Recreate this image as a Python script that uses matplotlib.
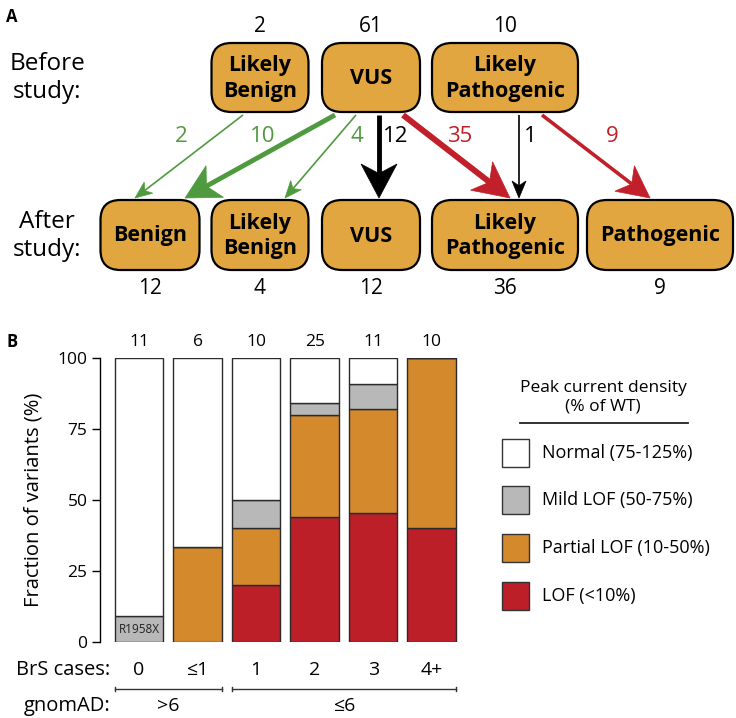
import numpy as np
import matplotlib
matplotlib.use("Agg")
import matplotlib.pyplot as plt
import matplotlib.patches as patches
from matplotlib.transforms import blended_transform_factory

plt.rcParams['font.family'] = ['Open Sans', 'DejaVu Sans']

# --- Panel A data ---
before_labels = ["Likely\nBenign", "VUS", "Likely\nPathogenic"]
before_counts = [2, 61, 10]
before_rank = [1, 2, 3]
after_labels = ["Benign", "Likely\nBenign", "VUS", "Likely\nPathogenic", "Pathogenic"]
after_counts = [12, 4, 12, 36, 9]
after_rank = [0, 1, 2, 3, 4]
# (from before index, to after index, number of variants)
trans_from = [0, 1, 1, 1, 1, 2, 2]
trans_to = [0, 0, 1, 2, 3, 3, 4]
trans_n = [2, 10, 4, 12, 35, 1, 9]

# --- Panel B data ---
bar_counts = [11, 6, 10, 25, 11, 10]
brs_labels = ["0", "\u22641", "1", "2", "3", "4+"]
lof = [0, 0, 20, 44, 45.5, 40]
partial = [0, 33.3, 20, 36, 36.4, 60]
mild = [9.1, 0, 10, 4, 9.1, 0]
normal = [90.9, 66.7, 50, 16, 9.1, 0]
class_names = ["Normal (75-125%)", "Mild LOF (50-75%)", "Partial LOF (10-50%)", "LOF (<10%)"]
class_colors = ["#ffffff", "#b8b8b8", "#d4892c", "#bc1f28"]

GREEN = "#4f9a3f"
RED = "#c1202a"
BOX = "#e1a63f"

fig = plt.figure(figsize=(7.36, 7.18), dpi=100)

# overlay in pixel coordinates for the diagram and annotations
axa = fig.add_axes([0, 0, 1, 1])
axa.set_xlim(0, 736)
axa.set_ylim(718, 0)
axa.axis('off')

# --- layout of panel A (pixels) ---
before_x = [260, 371, 505]
before_w = [97, 98, 146]
after_x = [150, 260, 371, 505, 660]
after_w = [99, 97, 98, 146, 146]
top_y, top_h = 77.5, 69
bot_y, bot_h = 235, 70


def draw_box(x, y, w, h, label):
    box = patches.FancyBboxPatch((x - w / 2, y - h / 2), w, h,
                                 boxstyle="round,pad=0,rounding_size=20",
                                 facecolor=BOX, edgecolor='black', linewidth=1.6)
    axa.add_patch(box)
    axa.text(x, y + 1, label, ha='center', va='center', fontsize=15.5,
             fontweight='bold', linespacing=1.3)


for x, w, lab, n in zip(before_x, before_w, before_labels, before_counts):
    draw_box(x, top_y, w, top_h, lab)
    axa.text(x, 26, str(n), ha='center', va='center', fontsize=15)
for x, w, lab, n in zip(after_x, after_w, after_labels, after_counts):
    draw_box(x, bot_y, w, bot_h, lab)
    axa.text(x, 288, str(n), ha='center', va='center', fontsize=15)

axa.text(47, 78, "Before\nstudy:", ha='center', va='center', fontsize=17.5, linespacing=1.2)
axa.text(47, 236, "After\nstudy:", ha='center', va='center', fontsize=17.5, linespacing=1.2)
axa.text(12, 17, "A", ha='center', va='center', fontsize=12, fontweight='bold')
axa.text(12, 342, "B", ha='center', va='center', fontsize=12, fontweight='bold')


def draw_arrow(x0, y0, x1, y1, lw, hl, hw, color):
    d = np.array([x1 - x0, y1 - y0], dtype=float)
    u = d / np.hypot(*d)
    nrm = np.array([-u[1], u[0]])
    tip = np.array([x1, y1])
    base = tip - u * hl
    notch = tip - u * hl * 0.72
    axa.plot([x0, notch[0]], [y0, notch[1]], color=color, linewidth=lw,
             solid_capstyle='butt')
    head = patches.Polygon([tip, base + nrm * hw / 2, notch, base - nrm * hw / 2],
                           closed=True, facecolor=color, edgecolor=color, linewidth=0.5)
    axa.add_patch(head)


# start / end offsets from box centres and label positions
start_dx = [-17, -36, -15, 8, 32, 14, 37]
end_dx = [-15, 35, 25, 8, 5, 14, -10]
label_x = [181, 263, 357, 396, 460, 530, 612]
for i in range(len(trans_n)):
    f, t, n = trans_from[i], trans_to[i], trans_n[i]
    if after_rank[t] < before_rank[f]:
        col = GREEN
    elif after_rank[t] > before_rank[f]:
        col = RED
    else:
        col = 'black'
    if n < 5:
        lw, hl, hw = 1.2, 17, 14
    elif n < 10:
        lw, hl, hw = 2.6, 32, 32
    elif n < 20:
        lw, hl, hw = 3.5, 34, 36
    else:
        lw, hl, hw = 4.3, 36, 36
    draw_arrow(before_x[f] + start_dx[i], top_y + top_h / 2 + 3,
               after_x[t] + end_dx[i], bot_y - bot_h / 2 - 2, lw, hl, hw, col)
    axa.text(label_x[i], 136, str(n), ha='center', va='center', fontsize=16, color=col)

# --- Panel B ---
axb = fig.add_axes([100 / 736, (718 - 642) / 718, 361 / 736, 284 / 718])
axb.patch.set_alpha(0)
x = np.arange(len(bar_counts))
bottom = np.zeros(len(x))
for vals, col in zip([lof, partial, mild, normal], class_colors[::-1]):
    axb.bar(x, vals, bottom=bottom, width=0.83, color=col, edgecolor='#2a2a2a', linewidth=1.0)
    bottom += np.array(vals)
axb.set_xlim(-0.667, 5.5)
axb.set_ylim(0, 100)
axb.set_yticks([0, 25, 50, 75, 100])
axb.tick_params(axis='y', labelsize=12.5, length=6, width=1, direction='out', pad=3)
axb.tick_params(axis='x', length=0, labelbottom=False)
for s in ['top', 'right', 'bottom']:
    axb.spines[s].set_visible(False)
axb.spines['left'].set_linewidth(1)
axb.set_ylabel("Fraction of variants (%)", fontsize=14.5, labelpad=10)

trans = blended_transform_factory(axb.transData, axb.transAxes)
for xi, n, lab in zip(x, bar_counts, brs_labels):
    axb.text(xi, 1.055, str(n), transform=trans, ha='center', va='center', fontsize=12.5, clip_on=False)
    axb.text(xi, -0.1, lab, transform=trans, ha='center', va='center', fontsize=14, clip_on=False)
axb.text(0, mild[0] / 2, "R1958X", ha='center', va='center', fontsize=8.5, color='#222222')

# gnomAD brackets
for a, b, lab in [(0, 1, ">6"), (2, 5, "\u22646")]:
    x0, x1 = a - 0.415, b + 0.415
    axb.plot([x0, x1], [-0.165, -0.165], transform=trans, color='#333333', lw=1, clip_on=False)
    for xe in (x0, x1):
        axb.plot([xe, xe], [-0.157, -0.173], transform=trans, color='#333333', lw=1, clip_on=False)
    axb.text((a + b) / 2, -0.225, lab, transform=trans, ha='center', va='center', fontsize=14, clip_on=False)

axa.text(110, 670, "BrS cases:", ha='right', va='center', fontsize=14.5)
axa.text(110, 706, "gnomAD:", ha='right', va='center', fontsize=14.5)

# legend
axa.text(603, 397, "Peak current density\n(% of WT)", ha='center', va='center', fontsize=12.5, linespacing=1.2)
axa.plot([520, 688], [423, 423], color='#222222', lw=1.3)
leg_y = [453, 500, 548, 596]
for yy, name, col in zip(leg_y, class_names, class_colors):
    axa.add_patch(patches.Rectangle((502, yy - 14), 27, 28, facecolor=col,
                                    edgecolor='#333333', linewidth=1.0))
    axa.text(542, yy, name, ha='left', va='center', fontsize=13)

fig.savefig("out.png", dpi=100)
